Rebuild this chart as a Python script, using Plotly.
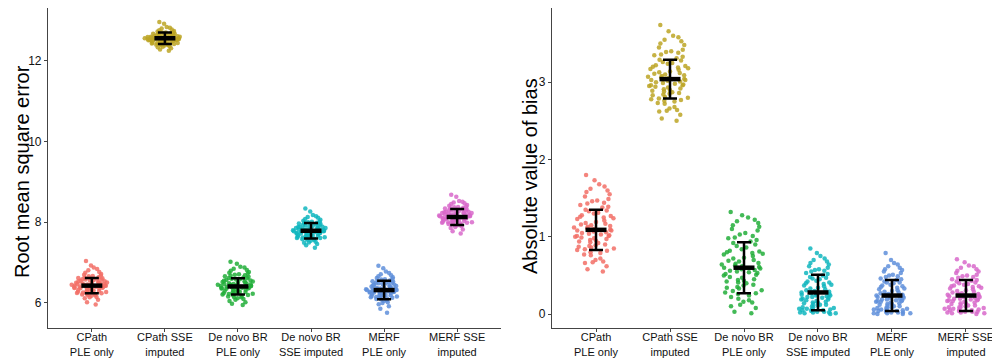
import plotly.graph_objects as go

# The page body has an 8px default margin; the figure is sized and placed to fill the 1000x358 window.
OFF = 8
W, H = 1000 - OFF, 358 - OFF

categories = ["CPath<br>PLE only", "CPath SSE<br>imputed", "De novo BR<br>PLE only",
              "De novo BR<br>SSE imputed", "MERF<br>PLE only", "MERF SSE<br>imputed"]
colors = ["#F26F66", "#BCA524", "#22AE3A", "#10B6BE", "#5F8FDB", "#D868CA"]

# ---------------- Root mean square error (left panel) ----------------
rmse_cpath_ple = [6.43, 6.21, 6.58, 6.37, 6.66, 6.12, 6.49, 6.30, 6.75, 6.44, 6.02, 6.55, 6.39, 6.27, 6.61, 6.47,
                  6.18, 6.70, 6.34, 6.52, 6.41, 6.24, 6.88, 6.46, 6.33, 6.59, 6.15, 6.50, 6.36, 6.63, 6.28, 6.45,
                  6.81, 6.40, 6.22, 6.56, 6.31, 6.68, 6.42, 6.08, 6.53, 6.38, 6.26, 6.72, 6.48, 6.35, 6.60, 6.19,
                  6.44, 6.93, 6.29, 6.51, 6.40, 6.64, 6.23, 6.46, 5.96, 6.57, 6.32, 6.43, 6.77, 6.37, 6.25, 6.54,
                  6.41, 6.14, 6.62, 6.48, 6.30, 7.04, 6.45, 6.20, 6.58, 6.36, 6.67, 6.43, 6.27, 6.50, 6.39, 6.84]
rmse_cpath_sse = [12.55, 12.41, 12.63, 12.50, 12.70, 12.36, 12.58, 12.47, 12.76, 12.53, 12.31, 12.61, 12.49, 12.44,
                  12.67, 12.56, 12.39, 12.73, 12.52, 12.59, 12.54, 12.42, 12.84, 12.57, 12.48, 12.65, 12.35, 12.60,
                  12.51, 12.68, 12.45, 12.55, 12.80, 12.53, 12.40, 12.62, 12.50, 12.71, 12.56, 12.28, 12.60, 12.52,
                  12.43, 12.74, 12.58, 12.49, 12.66, 12.38, 12.54, 12.92, 12.46, 12.59, 12.53, 12.69, 12.41, 12.57,
                  12.25, 12.63, 12.48, 12.55, 12.78, 12.51, 12.44, 12.61, 12.54, 12.34, 12.67, 12.57, 12.47, 12.96,
                  12.56, 12.39, 12.64, 12.50, 12.70, 12.55, 12.45, 12.60, 12.52, 12.82]
rmse_denovo_ple = [6.40, 6.18, 6.62, 6.33, 6.71, 6.05, 6.47, 6.26, 6.80, 6.44, 5.98, 6.57, 6.36, 6.22, 6.66, 6.49,
                   6.12, 6.75, 6.30, 6.53, 6.42, 6.20, 6.90, 6.45, 6.29, 6.60, 6.10, 6.51, 6.35, 6.68, 6.24, 6.46,
                   6.85, 6.39, 6.16, 6.58, 6.28, 6.73, 6.43, 6.02, 6.55, 6.37, 6.21, 6.77, 6.48, 6.32, 6.63, 6.14,
                   6.41, 6.97, 6.25, 6.52, 6.38, 6.69, 6.19, 6.47, 5.95, 6.59, 6.31, 6.44, 6.82, 6.34, 6.23, 6.56,
                   6.40, 6.08, 6.65, 6.50, 6.27, 7.02, 6.45, 6.15, 6.61, 6.36, 6.70, 6.42, 6.24, 6.54, 6.38, 6.88]
rmse_denovo_sse = [7.78, 7.60, 7.93, 7.71, 8.01, 7.52, 7.82, 7.66, 8.08, 7.79, 7.43, 7.89, 7.74, 7.63, 7.97, 7.84,
                   7.56, 8.04, 7.69, 7.86, 7.77, 7.61, 8.18, 7.81, 7.68, 7.92, 7.50, 7.85, 7.72, 7.99, 7.65, 7.80,
                   8.13, 7.76, 7.58, 7.90, 7.67, 8.02, 7.79, 7.46, 7.87, 7.73, 7.62, 8.06, 7.83, 7.70, 7.95, 7.54,
                   7.78, 8.27, 7.64, 7.88, 7.75, 7.98, 7.59, 7.82, 7.37, 7.91, 7.68, 7.79, 8.11, 7.72, 7.61, 7.89,
                   7.77, 7.49, 7.96, 7.84, 7.66, 8.34, 7.80, 7.57, 7.93, 7.71, 8.00, 7.78, 7.63, 7.86, 7.74, 8.15]
rmse_merf_ple = [6.32, 6.12, 6.49, 6.25, 6.58, 6.02, 6.38, 6.19, 6.66, 6.34, 5.92, 6.45, 6.28, 6.15, 6.54, 6.36,
                 6.07, 6.62, 6.22, 6.42, 6.31, 6.13, 6.78, 6.35, 6.21, 6.50, 6.00, 6.41, 6.26, 6.56, 6.17, 6.33,
                 6.71, 6.29, 6.10, 6.47, 6.23, 6.60, 6.31, 5.86, 6.44, 6.27, 6.14, 6.64, 6.37, 6.24, 6.52, 6.05,
                 6.33, 6.86, 6.18, 6.40, 6.30, 6.55, 6.11, 6.36, 5.76, 6.48, 6.20, 6.32, 6.69, 6.26, 6.16, 6.46,
                 6.30, 5.97, 6.53, 6.38, 6.19, 6.92, 6.34, 6.09, 6.50, 6.25, 6.59, 6.32, 6.16, 6.43, 6.28, 6.74]
rmse_merf_sse = [8.15, 7.98, 8.30, 8.08, 8.38, 7.90, 8.19, 8.03, 8.45, 8.16, 7.82, 8.26, 8.11, 8.00, 8.34, 8.21,
                 7.94, 8.41, 8.06, 8.23, 8.14, 7.99, 8.53, 8.18, 8.05, 8.29, 7.88, 8.22, 8.09, 8.36, 8.02, 8.17,
                 8.49, 8.13, 7.96, 8.27, 8.04, 8.39, 8.16, 7.78, 8.24, 8.10, 8.00, 8.43, 8.20, 8.07, 8.32, 7.92,
                 8.15, 8.63, 8.01, 8.25, 8.12, 8.35, 7.97, 8.19, 7.72, 8.28, 8.06, 8.16, 8.47, 8.09, 7.99, 8.26,
                 8.14, 7.86, 8.33, 8.21, 8.03, 8.68, 8.17, 7.95, 8.30, 8.08, 8.37, 8.15, 8.01, 8.23, 8.11, 8.51]
rmse_mean = [6.43, 12.56, 6.41, 7.79, 6.32, 8.13]
rmse_sd = [0.19, 0.14, 0.20, 0.19, 0.23, 0.20]

# ---------------- Absolute value of bias (right panel) ----------------
bias_cpath_ple = [1.08, 0.82, 1.35, 0.95, 1.47, 0.68, 1.15, 0.88, 1.58, 1.12, 0.62, 1.28, 1.01, 0.79, 1.41, 1.19,
                  0.72, 1.52, 0.92, 1.24, 1.06, 0.85, 1.68, 1.14, 0.97, 1.33, 0.66, 1.21, 1.00, 1.44, 0.90, 1.10,
                  1.62, 1.04, 0.76, 1.30, 0.94, 1.49, 1.11, 0.58, 1.26, 1.02, 0.84, 1.55, 1.17, 0.99, 1.38, 0.70,
                  1.09, 1.80, 0.87, 1.23, 1.05, 1.43, 0.80, 1.16, 0.55, 1.31, 0.93, 1.07, 1.60, 0.98, 0.83, 1.27,
                  1.03, 0.67, 1.39, 1.18, 0.89, 1.73, 1.13, 0.77, 1.34, 0.96, 1.46, 1.08, 0.86, 1.25, 1.01, 1.65]
bias_cpath_sse = [3.03, 2.78, 3.28, 2.90, 3.40, 2.64, 3.10, 2.84, 3.50, 3.07, 2.58, 3.22, 2.96, 2.75, 3.35, 3.14,
                  2.68, 3.45, 2.88, 3.19, 3.01, 2.80, 3.60, 3.09, 2.92, 3.26, 2.62, 3.16, 2.95, 3.38, 2.86, 3.05,
                  3.55, 2.99, 2.72, 3.24, 2.89, 3.42, 3.06, 2.53, 3.20, 2.97, 2.79, 3.48, 3.12, 2.94, 3.31, 2.66,
                  3.04, 3.74, 2.83, 3.18, 3.00, 3.36, 2.76, 3.11, 2.50, 3.25, 2.87, 3.02, 3.53, 2.93, 2.77, 3.21,
                  2.98, 2.63, 3.33, 3.13, 2.85, 3.66, 3.08, 2.73, 3.29, 2.91, 3.39, 3.03, 2.81, 3.17, 2.96, 3.58]
bias_denovo_ple = [0.60, 0.28, 0.92, 0.42, 1.05, 0.15, 0.68, 0.35, 1.15, 0.64, 0.08, 0.84, 0.50, 0.24, 0.98, 0.72,
                   0.18, 1.10, 0.40, 0.78, 0.57, 0.30, 1.25, 0.66, 0.45, 0.88, 0.12, 0.75, 0.52, 1.01, 0.38, 0.62,
                   1.20, 0.55, 0.22, 0.82, 0.44, 1.08, 0.63, 0.03, 0.80, 0.53, 0.27, 1.13, 0.70, 0.48, 0.94, 0.16,
                   0.59, 1.32, 0.33, 0.77, 0.56, 0.99, 0.26, 0.69, 0.01, 0.86, 0.41, 0.61, 1.18, 0.47, 0.31, 0.81,
                   0.54, 0.10, 0.96, 0.73, 0.37, 1.28, 0.65, 0.20, 0.90, 0.43, 1.03, 0.58, 0.34, 0.79, 0.51, 1.22]
bias_denovo_sse = [0.25, 0.05, 0.48, 0.14, 0.58, 0.02, 0.31, 0.09, 0.66, 0.27, 0.01, 0.41, 0.19, 0.06, 0.53, 0.34,
                   0.03, 0.62, 0.12, 0.38, 0.23, 0.07, 0.75, 0.29, 0.16, 0.45, 0.02, 0.36, 0.21, 0.55, 0.11, 0.26,
                   0.70, 0.22, 0.04, 0.43, 0.15, 0.60, 0.28, 0.00, 0.40, 0.20, 0.08, 0.64, 0.32, 0.17, 0.50, 0.03,
                   0.24, 0.85, 0.10, 0.37, 0.22, 0.56, 0.06, 0.30, 0.01, 0.46, 0.13, 0.26, 0.68, 0.18, 0.07, 0.42,
                   0.21, 0.02, 0.52, 0.33, 0.12, 0.79, 0.28, 0.05, 0.47, 0.15, 0.57, 0.24, 0.09, 0.39, 0.19, 0.72]
bias_merf_ple = [0.22, 0.04, 0.42, 0.12, 0.51, 0.01, 0.27, 0.08, 0.58, 0.24, 0.00, 0.36, 0.16, 0.05, 0.46, 0.30,
                 0.02, 0.55, 0.10, 0.33, 0.20, 0.06, 0.66, 0.25, 0.14, 0.40, 0.01, 0.31, 0.18, 0.48, 0.09, 0.23,
                 0.62, 0.19, 0.03, 0.38, 0.13, 0.53, 0.25, 0.00, 0.35, 0.17, 0.07, 0.57, 0.28, 0.15, 0.44, 0.02,
                 0.21, 0.79, 0.08, 0.32, 0.19, 0.49, 0.05, 0.26, 0.01, 0.41, 0.11, 0.23, 0.60, 0.16, 0.06, 0.37,
                 0.18, 0.02, 0.45, 0.29, 0.10, 0.70, 0.24, 0.04, 0.41, 0.13, 0.50, 0.21, 0.08, 0.34, 0.17, 0.64]
bias_merf_sse = [0.23, 0.05, 0.41, 0.13, 0.50, 0.02, 0.28, 0.09, 0.56, 0.25, 0.01, 0.37, 0.17, 0.06, 0.45, 0.31,
                 0.03, 0.53, 0.11, 0.34, 0.21, 0.07, 0.63, 0.26, 0.15, 0.39, 0.02, 0.32, 0.19, 0.47, 0.10, 0.24,
                 0.60, 0.20, 0.04, 0.38, 0.14, 0.51, 0.26, 0.00, 0.36, 0.18, 0.08, 0.55, 0.29, 0.16, 0.43, 0.03,
                 0.22, 0.71, 0.09, 0.33, 0.20, 0.48, 0.06, 0.27, 0.01, 0.42, 0.12, 0.24, 0.58, 0.17, 0.07, 0.36,
                 0.19, 0.03, 0.44, 0.30, 0.11, 0.67, 0.25, 0.05, 0.40, 0.14, 0.49, 0.22, 0.09, 0.35, 0.18, 0.62]
bias_mean = [1.09, 3.04, 0.60, 0.28, 0.24, 0.24]
bias_sd = [0.26, 0.25, 0.33, 0.23, 0.20, 0.20]

rmse_groups = [rmse_cpath_ple, rmse_cpath_sse, rmse_denovo_ple, rmse_denovo_sse, rmse_merf_ple, rmse_merf_sse]
bias_groups = [bias_cpath_ple, bias_cpath_sse, bias_denovo_ple, bias_denovo_sse, bias_merf_ple, bias_merf_sse]

FONT = "Liberation Sans, Arial, sans-serif"
fig = go.Figure()


def px_x(p):  # window pixel -> paper fraction
    return (p - OFF) / W


def px_y(p):
    return 1 - (p - OFF) / H


def add_panel(groups, means, sds, xa, ya, box_w):
    for cat, col, vals in zip(categories, colors, groups):
        fig.add_trace(go.Box(
            x=[cat] * len(vals), y=vals, xaxis=xa, yaxis=ya,
            boxpoints="all", jitter=1, pointpos=0, width=box_w,
            fillcolor="rgba(0,0,0,0)", line=dict(width=0, color="rgba(0,0,0,0)"),
            marker=dict(color=col, size=4.5, opacity=0.85, line=dict(width=0)),
            showlegend=False, hoveron="points"))
    fig.add_trace(go.Scatter(
        x=categories, y=means, xaxis=xa, yaxis=ya, mode="markers",
        marker=dict(symbol="line-ew", size=15, color="black", line=dict(width=4.5, color="black")),
        error_y=dict(type="data", array=sds, visible=True, thickness=2.5, width=7, color="black"),
        showlegend=False))


add_panel(rmse_groups, rmse_mean, rmse_sd, "x", "y", 0.56)
add_panel(bias_groups, bias_mean, bias_sd, "x2", "y2", 0.64)

ydom = [px_y(328), px_y(8)]
line_style = dict(showline=True, linecolor="#444", linewidth=1.2, ticks="outside", ticklen=3,
                  tickcolor="#444", tickwidth=1, showgrid=False, zeroline=False, automargin=False)
ytick_font = dict(family=FONT, size=12, color="#111")
xtick_font = dict(family=FONT, size=11, color="#111")

fig.update_layout(
    width=W, height=H, margin=dict(l=0, r=0, t=0, b=0),
    paper_bgcolor="white", plot_bgcolor="white", boxmode="overlay",
    xaxis=dict(domain=[px_x(48), px_x(501)], type="category", range=[-0.6, 5.6],
               tickfont=xtick_font, ticklabelstandoff=-4, **line_style),
    yaxis=dict(domain=ydom, range=[5.38, 13.31], tickvals=[6, 8, 10, 12], anchor="x",
               tickfont=ytick_font, **line_style),
    xaxis2=dict(domain=[px_x(552), 1.0], type="category", range=[-0.595, 5.46], anchor="y2",
                tickfont=xtick_font, ticklabelstandoff=-4, **line_style),
    yaxis2=dict(domain=ydom, range=[-0.18, 3.96], tickvals=[0, 1, 2, 3], anchor="x2",
                tickfont=ytick_font, **line_style),
    annotations=[
        dict(text="Root mean square error", xref="paper", yref="paper", x=px_x(22), y=px_y(172),
             textangle=-90, showarrow=False, xanchor="center", yanchor="middle",
             font=dict(family=FONT, size=20, color="black")),
        dict(text="Absolute value of bias", xref="paper", yref="paper", x=px_x(530), y=px_y(176),
             textangle=-90, showarrow=False, xanchor="center", yanchor="middle",
             font=dict(family=FONT, size=20, color="black")),
    ],
)

fig.write_html("out.html")
